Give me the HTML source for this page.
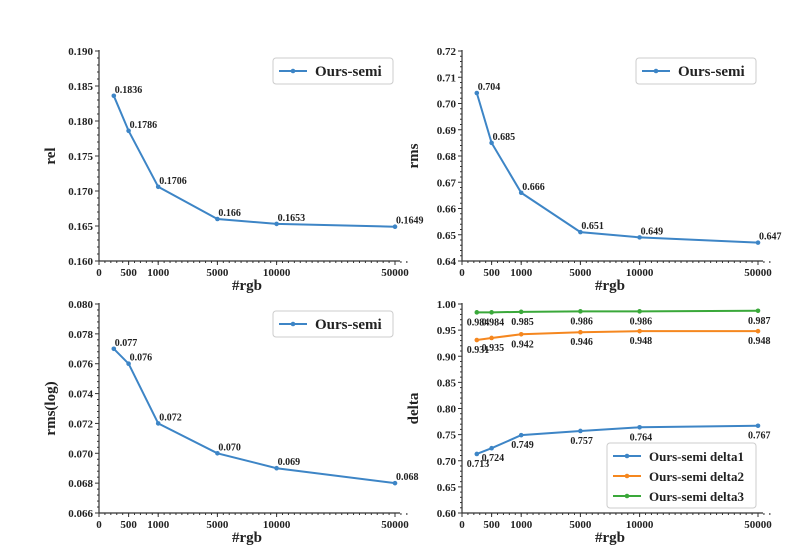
<!DOCTYPE html>
<html><head><meta charset="utf-8">
<style>
html,body{margin:0;padding:0;background:#fff;}
svg{display:block;font-family:"Liberation Serif",serif;font-weight:bold;}
</style></head>
<body>
<svg id="c" width="803" height="550"></svg>
<script>
const rgbCounts=[250,500,1000,5000,10000,50000];
const xTickLabels=["0","500","1000","5000","10000","50000"];
const xTickValues=[0,500,1000,5000,10000,50000];
const xTickUnits=[0,1,2,4,6,10];
const relValues=[0.1836,0.1786,0.1706,0.166,0.1653,0.1649];
const relLabels=["0.1836","0.1786","0.1706","0.166","0.1653","0.1649"];
const rmsValues=[0.704,0.685,0.666,0.651,0.649,0.647];
const rmsLabels=["0.704","0.685","0.666","0.651","0.649","0.647"];
const rmslogValues=[0.077,0.076,0.072,0.070,0.069,0.068];
const rmslogLabels=["0.077","0.076","0.072","0.070","0.069","0.068"];
const delta1Values=[0.713,0.724,0.749,0.757,0.764,0.767];
const delta2Values=[0.931,0.935,0.942,0.946,0.948,0.948];
const delta3Values=[0.984,0.984,0.985,0.986,0.986,0.987];
const relTicks=[0.160,0.165,0.170,0.175,0.180,0.185,0.190];
const rmsTicks=[0.64,0.65,0.66,0.67,0.68,0.69,0.70,0.71,0.72];
const rmslogTicks=[0.066,0.068,0.070,0.072,0.074,0.076,0.078,0.080];
const deltaTicks=[0.60,0.65,0.70,0.75,0.80,0.85,0.90,0.95,1.00];

const NS="http://www.w3.org/2000/svg";
const svg=document.getElementById('c');
function mk(tag,attrs,parent,text){const e=document.createElementNS(NS,tag);for(const k in attrs)e.setAttribute(k,attrs[k]);if(text!==undefined)e.textContent=text;(parent||svg).appendChild(e);return e;}
function unitOf(v){
  if(v<=xTickValues[0])return xTickUnits[0];
  for(let i=1;i<xTickValues.length;i++){if(v<=xTickValues[i]){const t=(v-xTickValues[i-1])/(xTickValues[i]-xTickValues[i-1]);return xTickUnits[i-1]+t*(xTickUnits[i]-xTickUnits[i-1]);}}
  return xTickUnits[xTickUnits.length-1];
}
const COL={blue:"#3d85c6",orange:"#f5871f",green:"#3aa83a"};
function panel(o){
  const g=mk('g',{});
  
  
  const x=v=>o.x0+unitOf(v)*(o.x1-o.x0)/10;
  const ymin=o.ticks[0],ymax=o.ticks[o.ticks.length-1];
  const y=v=>o.yb-(v-ymin)/(ymax-ymin)*(o.yb-o.yt);
  // axes
  const ax=mk('path',{d:`M${o.x0} ${o.yt-1}V${o.yb}H${o.xe}`,stroke:'#333',fill:'none','stroke-width':1.2},g);
  
  // y ticks + minor
  const step=(ymax-ymin)/(o.ticks.length-1);
  for(let i=0;i<o.ticks.length;i++){
    const yy=y(o.ticks[i]);
    mk('line',{x1:o.x0-4,x2:o.x0,y1:yy,y2:yy,stroke:'#333'},g);
    const t=mk('text',{x:o.x0-6,y:yy+4,'text-anchor':'end','font-size':11,fill:'#222'},g,o.tickFmt(o.ticks[i]));
    
    if(i<o.ticks.length-1)for(let m=1;m<5;m++){const ym=y(o.ticks[i]+step*m/5);mk('line',{x1:o.x0-2,x2:o.x0,y1:ym,y2:ym,stroke:'#333'},g);}
  }
  // x ticks
  for(let i=0;i<xTickValues.length;i++){
    const xx=x(xTickValues[i]);
    mk('line',{x1:xx,x2:xx,y1:o.yb,y2:o.yb+4,stroke:'#333'},g);
    const t=mk('text',{x:xx,y:o.yb+15,'text-anchor':'middle','font-size':11,fill:'#222'},g,xTickLabels[i]);
    
  }
  for(let u=0;u<10.4;u+=0.2){const xx=o.x0+u*(o.x1-o.x0)/10;mk('line',{x1:xx,x2:xx,y1:o.yb,y2:o.yb+2,stroke:'#333'},g);}
  const xt=mk('text',{x:(o.x0+o.x1)/2,y:o.yb+29,'text-anchor':'middle','font-size':15,fill:'#222'},g,'#rgb');
  
  const yl=mk('text',{x:0,y:0,'text-anchor':'middle','font-size':15,fill:'#222',transform:`translate(${o.x0-44},${(o.yt+o.yb)/2}) rotate(-90)`},g,o.ylabel);
  
  // series
  o.series.forEach(s=>{
    const pts=rgbCounts.map((c,i)=>[x(c),y(s.values[i])]);
    const ln=mk('polyline',{points:pts.map(p=>p.join(',')).join(' '),fill:'none',stroke:s.color,'stroke-width':2},g);
    
    pts.forEach((p,i)=>{
      const c=mk('circle',{cx:p[0],cy:p[1],r:2.3,fill:s.color},g);
      
      const lab=s.labels?s.labels[i]:s.values[i].toFixed(3);
      const t=mk('text',{x:p[0]+(s.below?-10:1),y:p[1]+(s.below?13:-3),'font-size':10,fill:'#222'},g,lab);
      
    });
  });
  // legend
  const L=o.legend;
  const lb=mk('rect',{x:L.x,y:L.y,width:L.w,height:L.h,rx:3,fill:'#fff',stroke:'#ccc'},g);
  
  o.series.forEach((s,i)=>{
    const yy=L.y+13+i*L.row;
    mk('line',{x1:L.x+6,x2:L.x+34,y1:yy,y2:yy,stroke:s.color,'stroke-width':2},g);
    mk('circle',{cx:L.x+20,cy:yy,r:2.3,fill:s.color},g);
    const t=mk('text',{x:L.x+42,y:yy+5,'font-size':L.fs,fill:'#222'},g,s.name);
    
  });
}
panel({name:'rel-panel',x0:99,x1:395,xe:400,yt:51,yb:261,ticks:relTicks,tickFmt:v=>v.toFixed(3),ylabel:'rel',
  series:[{name:'Ours-semi',values:relValues,labels:relLabels,color:COL.blue}],
  legend:{x:273,y:58,w:120,h:26,row:20,fs:15}});
panel({name:'rms-panel',x0:462,x1:758,xe:763,yt:51,yb:261,ticks:rmsTicks,tickFmt:v=>v.toFixed(2),ylabel:'rms',
  series:[{name:'Ours-semi',values:rmsValues,labels:rmsLabels,color:COL.blue}],
  legend:{x:636,y:58,w:120,h:26,row:20,fs:15}});
panel({name:'rmslog-panel',x0:99,x1:395,xe:400,yt:304,yb:513,ticks:rmslogTicks,tickFmt:v=>v.toFixed(3),ylabel:'rms(log)',
  series:[{name:'Ours-semi',values:rmslogValues,labels:rmslogLabels,color:COL.blue}],
  legend:{x:273,y:311,w:120,h:26,row:20,fs:15}});
panel({name:'delta-panel',x0:462,x1:758,xe:763,yt:304,yb:513,ticks:deltaTicks,tickFmt:v=>v.toFixed(2),ylabel:'delta',
  series:[{name:'Ours-semi delta1',values:delta1Values,color:COL.blue,below:true},
          {name:'Ours-semi delta2',values:delta2Values,color:COL.orange,below:true},
          {name:'Ours-semi delta3',values:delta3Values,color:COL.green,below:true}],
  legend:{x:607,y:443,w:149,h:65,row:20,fs:13}});
</script>
</body></html>
